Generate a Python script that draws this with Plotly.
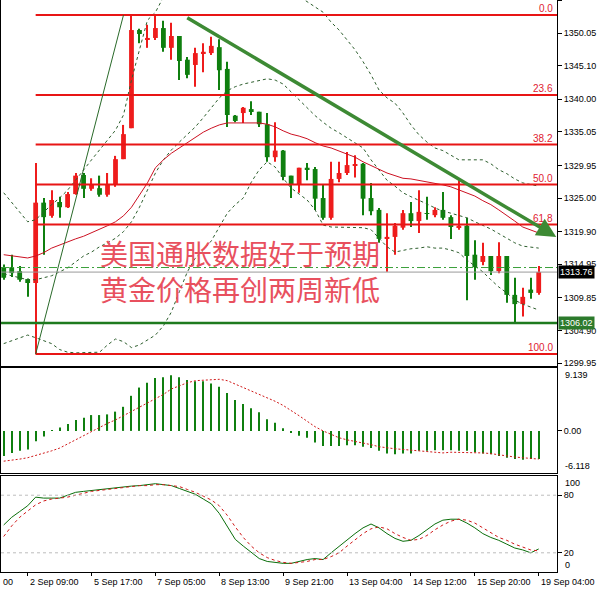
import plotly.graph_objects as go
from plotly.subplots import make_subplots

# XAUUSD H4 - candles (red = up, green = down)
bar_idx = list(range(68))

open_ = [1314.5, 1314.5, 1313.9, 1312.7, 1312.1, 1324.3, 1322.3, 1324.4, 1323.6, 1325.6,
         1328.5, 1326.4, 1326.5, 1325.5, 1327.0, 1330.9, 1335.6, 1350.5, 1349.0, 1349.3,
         1350.8, 1347.8, 1349.6, 1346.0, 1345.2, 1346.9, 1347.0, 1347.9, 1344.6, 1337.5,
         1337.9, 1338.5, 1338.1, 1336.2, 1331.2, 1332.2, 1328.4, 1327.0, 1329.6, 1329.4,
         1325.0, 1322.0, 1327.9, 1328.8, 1329.9, 1330.2, 1325.0, 1323.2, 1318.9, 1319.1,
         1320.5, 1322.7, 1321.5, 1322.7, 1322.4, 1323.2, 1322.1, 1320.6, 1320.8, 1316.4,
         1315.3, 1316.2, 1313.9, 1316.2, 1310.3, 1308.9, 1311.1, 1310.6]
high = [1314.9, 1316.4, 1314.7, 1312.8, 1330.3, 1325.0, 1326.2, 1325.2, 1325.9, 1328.8,
        1328.8, 1328.0, 1328.4, 1328.8, 1331.4, 1336.1, 1352.8, 1350.7, 1351.3, 1352.7,
        1351.9, 1351.6, 1349.6, 1346.4, 1347.8, 1348.5, 1349.5, 1349.1, 1345.7, 1337.6,
        1338.8, 1339.7, 1338.1, 1337.9, 1336.5, 1332.3, 1328.4, 1329.6, 1330.3, 1329.7,
        1327.0, 1330.5, 1330.5, 1332.0, 1331.5, 1330.3, 1327.3, 1323.5, 1322.7, 1321.2,
        1323.2, 1324.4, 1326.2, 1325.2, 1323.6, 1325.9, 1322.4, 1327.7, 1322.0, 1318.6,
        1318.2, 1316.2, 1318.3, 1316.2, 1312.9, 1311.4, 1312.9, 1314.7]
low = [1312.6, 1313.0, 1312.3, 1310.0, 1301.3, 1316.4, 1322.0, 1322.0, 1323.5, 1325.5,
       1325.0, 1326.1, 1325.2, 1325.2, 1326.7, 1330.9, 1335.6, 1348.5, 1347.8, 1349.0,
       1347.2, 1346.0, 1342.9, 1343.2, 1341.9, 1344.1, 1346.7, 1341.4, 1335.8, 1336.5,
       1336.4, 1337.6, 1335.8, 1330.5, 1330.5, 1327.7, 1325.0, 1325.8, 1327.7, 1323.2,
       1321.7, 1321.7, 1327.4, 1328.5, 1328.1, 1322.4, 1322.4, 1318.2, 1313.8, 1316.4,
       1320.2, 1320.6, 1319.7, 1321.7, 1322.1, 1321.7, 1318.8, 1320.2, 1309.5, 1312.6,
       1314.8, 1313.3, 1313.6, 1309.1, 1306.1, 1307.0, 1309.7, 1310.3]
close = [1312.9, 1313.6, 1312.6, 1312.1, 1324.3, 1322.1, 1324.7, 1323.6, 1325.6, 1328.4,
         1326.4, 1327.0, 1325.5, 1327.0, 1330.9, 1334.7, 1350.5, 1349.9, 1349.3, 1350.8,
         1347.8, 1349.6, 1345.8, 1343.7, 1347.0, 1347.2, 1348.1, 1344.4, 1337.6, 1336.7,
         1338.7, 1338.2, 1336.2, 1331.2, 1332.2, 1328.2, 1327.1, 1329.6, 1329.3, 1324.9,
         1322.0, 1327.9, 1328.8, 1330.0, 1330.0, 1324.9, 1323.0, 1318.8, 1319.1, 1320.8,
         1322.7, 1321.5, 1322.9, 1322.6, 1323.2, 1322.0, 1320.6, 1320.8, 1316.2, 1314.5,
         1316.2, 1313.9, 1316.2, 1310.3, 1308.9, 1310.0, 1310.6, 1313.76]

# red moving average
ma_line = [1316.4, 1316.2, 1316.1, 1315.9, 1316.2, 1316.7, 1317.4, 1317.9, 1318.3, 1318.8,
           1319.2, 1319.7, 1320.2, 1320.8, 1321.4, 1322.3, 1323.6, 1325.5, 1327.3, 1329.6,
           1330.8, 1331.8, 1332.6, 1333.4, 1334.3, 1335.0, 1335.6, 1336.1, 1336.4, 1336.4,
           1336.5, 1336.5, 1336.4, 1336.2, 1335.8, 1335.2, 1334.7, 1334.4, 1334.0, 1333.4,
           1332.9, 1332.6, 1332.1, 1331.7, 1331.2, 1330.5, 1329.9, 1329.3, 1328.8, 1328.4,
           1328.0, 1327.9, 1327.7, 1327.4, 1327.3, 1327.0, 1326.7, 1326.2, 1325.8, 1325.3,
           1324.6, 1324.0, 1323.2, 1322.4, 1321.5, 1320.6, 1320.2, 1319.7]

# bollinger bands (dotted)
bb_upper = [1325.8, 1324.3, 1322.9, 1321.4, 1321.7, 1322.9, 1324.0, 1325.0, 1326.2, 1327.7,
            1329.3, 1330.8, 1332.3, 1333.8, 1335.3, 1337.6, 1342.9, 1347.5, 1352.0, 1353.2,
            1355.5, 1357.0, 1358.5, 1359.5, 1360.3, 1361.0, 1361.5, 1361.8, 1361.8, 1361.5,
            1361.0, 1360.4, 1359.6, 1358.8, 1358.0, 1357.2, 1356.4, 1355.6, 1354.8, 1354.0,
            1353.2, 1351.7, 1350.5, 1349.0, 1347.5, 1345.7, 1343.7, 1341.4, 1340.2, 1339.4,
            1337.9, 1336.1, 1334.6, 1333.5, 1332.6, 1332.2, 1331.5, 1330.8, 1330.8, 1330.8,
            1330.8, 1330.2, 1329.3, 1328.7, 1327.9, 1327.3, 1327.0, 1326.8]
bb_mid = [1313.5, 1313.2, 1312.9, 1312.6, 1312.6, 1312.9, 1313.2, 1313.8, 1314.4, 1315.3,
          1316.2, 1316.8, 1317.6, 1318.2, 1318.9, 1319.9, 1321.4, 1323.6, 1326.2, 1328.8,
          1330.8, 1332.3, 1333.5, 1334.6, 1335.8, 1337.2, 1338.7, 1340.2, 1341.3, 1341.9,
          1342.3, 1342.6, 1342.9, 1343.1, 1342.9, 1342.3, 1341.1, 1339.9, 1338.7, 1337.5,
          1336.5, 1335.6, 1334.9, 1334.1, 1333.4, 1332.6, 1330.8, 1329.3, 1327.7, 1326.8,
          1325.8, 1325.2, 1324.7, 1324.1, 1323.5, 1323.0, 1322.7, 1322.4, 1322.0, 1321.4,
          1320.9, 1320.3, 1319.6, 1318.9, 1318.2, 1317.7, 1317.6, 1317.4]
bb_lower = [1302.9, 1303.3, 1303.8, 1304.2, 1303.8, 1303.3, 1302.9, 1302.0, 1301.6, 1301.5,
            1301.5, 1301.5, 1301.6, 1302.7, 1303.6, 1303.2, 1302.3, 1302.7, 1303.5, 1304.2,
            1305.6, 1307.7, 1310.8, 1313.8, 1315.9, 1317.1, 1318.5, 1320.5, 1322.7, 1324.0,
            1325.0, 1327.4, 1329.3, 1330.5, 1329.7, 1328.0, 1326.5, 1325.6, 1324.7, 1323.2,
            1320.9, 1320.6, 1320.6, 1320.6, 1320.6, 1320.5, 1320.2, 1318.9, 1317.6, 1316.8,
            1317.1, 1317.3, 1317.4, 1317.6, 1317.4, 1317.4, 1317.1, 1316.7, 1315.6, 1314.7,
            1313.8, 1312.6, 1311.5, 1310.6, 1309.5, 1308.9, 1308.5, 1308.0]

# MACD histogram + signal
macd_hist = [-3.65, -3.2, -2.9, -2.7, -1.5, -0.8, 0.05, 0.5, 1.0, 1.6,
             1.9, 2.3, 2.3, 2.4, 2.8, 3.5, 5.1, 6.3, 7.0, 7.7,
             7.8, 8.1, 7.8, 7.4, 7.2, 7.2, 6.9, 6.4, 5.5, 4.5,
             3.9, 3.3, 2.7, 1.7, 1.2, 0.4, -0.3, -0.7, -1.0, -1.7,
             -2.2, -2.2, -2.2, -2.1, -2.1, -2.3, -2.5, -2.9, -3.3, -3.4,
             -3.3, -3.3, -2.9, -2.9, -2.8, -2.8, -2.8, -2.9, -2.9, -3.1,
             -3.3, -3.4, -3.65, -3.9, -4.1, -4.2, -4.1, -4.1]
macd_signal = [-4.4, -4.3, -4.1, -3.9, -3.6, -3.3, -2.9, -2.5, -1.9, -1.2,
               -0.6, 0.0, 0.6, 1.1, 1.6, 2.2, 2.9, 3.5, 4.0, 4.6,
               5.3, 6.1, 6.6, 7.0, 7.3, 7.4, 7.5, 7.5, 7.3, 6.8,
               6.3, 5.8, 5.4, 4.9, 4.3, 3.7, 3.0, 2.2, 1.4, 0.6,
               0.0, -0.5, -1.0, -1.3, -1.5, -1.75, -2.0, -2.3, -2.5, -2.6,
               -2.7, -2.8, -2.9, -3.0, -3.2, -3.2, -3.1, -3.1, -3.1, -3.2,
               -3.2, -3.3, -3.5, -3.65, -3.8, -3.9, -4.0, -4.1]

# stochastic %K / %D
stoch_k = [49, 57, 63, 69, 78, 77, 77, 77, 80, 83,
           84, 85, 86, 87, 88, 89, 89.5, 90, 91, 92,
           91, 90, 87, 84, 81, 76, 71, 61, 47, 34,
           27, 20, 14, 11, 10, 9, 9, 11, 13, 14,
           13, 20, 27, 34, 40, 46, 50, 46, 40, 35,
           32, 33, 38, 44, 50, 54, 55, 55, 51, 46,
           40, 36, 33, 29, 25, 23, 20, 24]
stoch_d = [37, 48, 57, 64, 70, 74, 76, 77, 78, 80,
           82, 84, 85, 86, 87, 88, 89, 90, 90, 91,
           91, 90, 89, 86, 83, 79, 75, 69, 59, 47,
           36, 27, 20, 15, 12, 10, 9, 10, 11, 13,
           13, 16, 20, 27, 34, 40, 45, 47, 45, 40,
           36, 33, 34, 38, 44, 49, 53, 55, 54, 51,
           46, 41, 36, 33, 29, 26, 23, 22]

# fibonacci retracement (from bar 4 low to bar 15 high)
fib_low = 1301.32
fib_high = 1352.78
fib_levels = [0.0, 23.6, 38.2, 50.0, 61.8, 100.0]
fib_start_bar = 4
fib_end_bar = 15

# horizontal lines / price labels
bid_price = 1313.76
ask_price = 1314.45
support_price = 1306.02

# trend arrow (bar, price)
arrow_from = (22.8, 1352.5)
arrow_to = (69.2, 1319.1)

main_ticks = [1355.00, 1350.05, 1345.10, 1340.00, 1335.05, 1329.95, 1325.00,
              1319.90, 1314.95, 1309.85, 1304.90, 1299.95]
time_ticks = [3, 11, 19, 27, 35, 43, 51, 59, 67]
time_labels = ['2 Sep 09:00', '5 Sep 17:00', '7 Sep 05:00', '8 Sep 13:00', '9 Sep 21:00',
               '13 Sep 04:00', '14 Sep 12:00', '15 Sep 20:00', '19 Sep 04:00']

headline = ['美国通胀数据好于预期', '黄金价格再创两周新低']

RED = '#ee1c1c'
GREEN = '#0f7f0f'
BB_COLOR = '#2d5e2d'
AXIS_FONT = dict(family='Liberation Sans, Arial, sans-serif', size=9, color='black')
X_RANGE = [-0.34, 69.29]


def candle_colors():
    return [RED if c >= o else GREEN for o, c in zip(open_, close)]


def add_candles(fig):
    colors = candle_colors()
    # wicks first, bodies on top
    fig.add_trace(go.Bar(x=bar_idx, y=[h - l for h, l in zip(high, low)], base=low,
                         width=0.14, marker=dict(color=colors, line=dict(width=0))),
                  row=1, col=1)
    body = [max(abs(c - o), 0.12) for o, c in zip(open_, close)]
    fig.add_trace(go.Bar(x=bar_idx, y=body, base=[min(o, c) for o, c in zip(open_, close)],
                         width=0.6, marker=dict(color=colors, line=dict(width=0))),
                  row=1, col=1)


fig = make_subplots(rows=3, cols=1, shared_xaxes=True, vertical_spacing=0.003)

# bands and moving average under the candles
for band in (bb_upper, bb_mid, bb_lower):
    fig.add_trace(go.Scatter(x=bar_idx, y=band, mode='lines',
                             line=dict(color=BB_COLOR, width=1, dash='3px,3px')), row=1, col=1)
fig.add_trace(go.Scatter(x=bar_idx, y=ma_line, mode='lines',
                         line=dict(color='#cc1122', width=1)), row=1, col=1)

add_candles(fig)

# fibo levels + diagonal
fib_range = fib_high - fib_low
for lvl in fib_levels:
    price = fib_high - lvl / 100 * fib_range
    fig.add_trace(go.Scatter(x=[fib_start_bar, X_RANGE[1]], y=[price, price], mode='lines',
                             line=dict(color='#e81515', width=2)), row=1, col=1)
    fig.add_annotation(x=1, xref='x domain', y=price, yref='y', text='%.1f' % lvl,
                       showarrow=False, xanchor='right', yanchor='bottom', xshift=-2, yshift=-1,
                       font=dict(family='Liberation Sans, Arial, sans-serif', size=10, color='#e02030'))
fig.add_trace(go.Scatter(x=[fib_start_bar, fib_end_bar], y=[fib_low, fib_high], mode='lines',
                         line=dict(color='#2a6a2a', width=1)), row=1, col=1)

# MACD
fig.add_trace(go.Bar(x=bar_idx, y=macd_hist, width=0.14,
                     marker=dict(color=GREEN, line=dict(width=0))), row=2, col=1)
fig.add_trace(go.Scatter(x=bar_idx, y=macd_signal, mode='lines',
                         line=dict(color='#d01818', width=1, dash='2px,2px')), row=2, col=1)

# Stochastic
fig.add_trace(go.Scatter(x=bar_idx, y=stoch_k, mode='lines',
                         line=dict(color='#0a6e0a', width=1)), row=3, col=1)
fig.add_trace(go.Scatter(x=bar_idx, y=stoch_d, mode='lines',
                         line=dict(color='#d01818', width=1, dash='3px,3px')), row=3, col=1)

# horizontal price lines
fig.add_shape(type='line', xref='x domain', x0=0, x1=1, yref='y', y0=support_price, y1=support_price,
              line=dict(color='#1e7a1e', width=2.5))
fig.add_shape(type='line', xref='x domain', x0=0, x1=1, yref='y', y0=bid_price, y1=bid_price,
              line=dict(color='#9a9a9a', width=1))
fig.add_shape(type='line', xref='x domain', x0=0, x1=1, yref='y', y0=ask_price, y1=ask_price,
              line=dict(color='#3aa03a', width=1, dash='8px,3px,2px,3px'))
for lvl in (80, 20):
    fig.add_shape(type='line', xref='x3 domain', x0=0, x1=1, yref='y3', y0=lvl, y1=lvl,
                  line=dict(color='#bdbdbd', width=1, dash='3px,3px'))

# trend arrow
fig.add_annotation(x=arrow_to[0], y=arrow_to[1], ax=arrow_from[0], ay=arrow_from[1],
                   xref='x', yref='y', axref='x', ayref='y', text='', showarrow=True,
                   arrowhead=2, arrowsize=1.1, arrowwidth=3.5, arrowcolor='#3d8a34')

# headline text
for i, line in enumerate(headline):
    fig.add_annotation(x=11.8, y=[1316.7, 1311.2][i], xref='x', yref='y', text=line,
                       showarrow=False, xanchor='left', yanchor='middle',
                       font=dict(family='Noto Sans CJK SC', size=28, color='#e8505e'))

# price boxes on the right axis
for price, bg in ((bid_price, 'black'), (support_price, '#2c7a2c')):
    fig.add_annotation(x=1, xref='paper', y=price, yref='y', text='%.2f' % price,
                       showarrow=False, xanchor='left', yanchor='middle', xshift=1,
                       bgcolor=bg, borderpad=1,
                       font=dict(family='Liberation Sans, Arial, sans-serif', size=9, color='white'))

# min/max labels of the indicator windows
for txt, y, yref, anchor in (('9.139', 9.139, 'y2', 'top'), ('-6.118', -6.118, 'y2', 'bottom'),
                             ('100', 100, 'y3', 'top'), ('0', 0, 'y3', 'bottom')):
    fig.add_annotation(x=1, xref='paper', y=y, yref=yref, text=txt, showarrow=False,
                       xanchor='left', yanchor=anchor, xshift=6, font=AXIS_FONT)

# time labels, left aligned at the tick like MT4
for t, lab in zip(time_ticks, time_labels):
    fig.add_annotation(x=t, xref='x3', y=0, yref='paper', text=lab, showarrow=False,
                       xanchor='left', yanchor='top', yshift=-3, font=AXIS_FONT)
fig.add_annotation(x=0, xref='paper', y=0, yref='paper', text='00', showarrow=False,
                   xanchor='left', yanchor='top', yshift=-3, font=AXIS_FONT)

frame = dict(showline=True, mirror=True, linecolor='black', linewidth=1,
             showgrid=False, zeroline=False)
for ax in ('xaxis', 'xaxis2', 'xaxis3'):
    fig.update_layout({ax: dict(range=X_RANGE, showticklabels=False, **frame)})
fig.update_layout(xaxis3=dict(ticks='outside', tickvals=time_ticks, ticklen=3, tickcolor='black'))

yaxis_common = dict(side='right', ticks='outside', ticklen=4, tickcolor='black',
                    tickfont=AXIS_FONT, **frame)
fig.update_layout(
    yaxis=dict(domain=[0.3601, 1.0], range=[1299.5, 1355.06], tickvals=main_ticks,
               ticktext=['%.2f' % v for v in main_ticks], **yaxis_common),
    yaxis2=dict(domain=[0.1731, 0.3566], range=[-6.118, 9.139], tickvals=[0],
                ticktext=['0.00'], **yaxis_common),
    yaxis3=dict(domain=[0.0, 0.1678], range=[0, 100], tickvals=[80, 20],
                ticktext=['80', '20'], **yaxis_common),
    barmode='overlay',
    showlegend=False,
    width=600, height=589,
    margin=dict(l=1, r=43, t=0, b=17),
    plot_bgcolor='white', paper_bgcolor='white',
)

# drop the browser's default page margin so the chart sits at the window corner
fig.write_html("out.html", config={'displayModeBar': False},
               post_script="document.body.style.margin='0';")
